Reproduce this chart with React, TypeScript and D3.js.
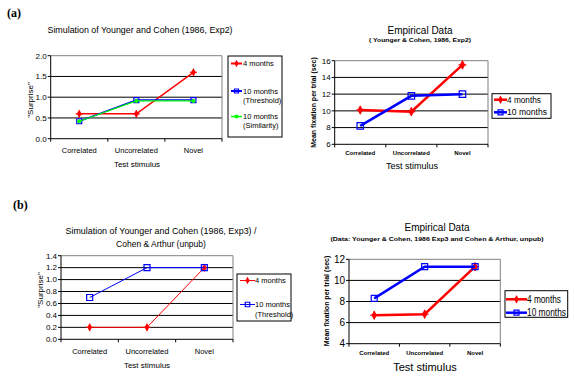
import React from "react";
import * as d3 from "d3";

// categories + values
const categories = ["Correlated", "Uncorrelated", "Novel"];

const simA4 = [0.6, 0.6, 1.6];
const simA10Thresh = [0.42, 0.93, 0.93];
const simA10Sim = [0.42, 0.91, 0.91];
const simATicks = [0, 0.5, 1.0, 1.5, 2.0];

const empA4 = [10.1, 9.9, 15.5];
const empA10 = [8.2, 11.8, 12.0];
const empATicks = [6, 8, 10, 12, 14, 16];

const simB4 = [0.2, 0.2, 1.2];
const simB10 = [0.7, 1.2, 1.2];
const simBTicks = [0, 0.2, 0.4, 0.6, 0.8, 1.0, 1.2, 1.4];

const empB4 = [6.7, 6.8, 11.3];
const empB10 = [8.3, 11.3, 11.3];
const empBTicks = [4, 6, 8, 10, 12];

const RED = "#ff0000";
const BLUE = "#0000ff";
const GREEN = "#00ff00";
const FONT = "'Liberation Sans', Arial, sans-serif";

type Series = {
  values: number[];
  color: string;
  width: number;
  marker: "diamond" | "square" | "circle";
  msize: number;
};

const Marker = ({ kind, x, y, color, size }: { kind: string; x: number; y: number; color: string; size: number }) => {
  if (kind === "diamond") {
    const p = d3.symbol().type(d3.symbolDiamond).size(size * size * 0.55)();
    const h = size / 2 + 0.5;
    return (
      <g transform={`translate(${x},${y})`}>
        <path d={p!} fill={color} />
        <line x1={-h} x2={h} y1={0} y2={0} stroke={color} strokeWidth={1.2} />
        <line x1={0} x2={0} y1={-h} y2={h} stroke={color} strokeWidth={1.2} />
      </g>
    );
  }
  if (kind === "square") {
    const p = d3.symbol().type(d3.symbolSquare).size(size * size)();
    return <path d={p!} transform={`translate(${x},${y})`} fill="none" stroke={color} strokeWidth={1.2} />;
  }
  return <circle cx={x} cy={y} r={size / 2} fill={color} />;
};

type LegendItem = { lines: string[]; color: string; width: number; marker: string; msize: number; tl?: number };

type PanelProps = {
  x0: number; x1: number; y0: number; y1: number;
  domain: [number, number];
  ticks: number[];
  fmt: (v: number) => string;
  tickSize: number;
  xLabSize: number; xLabWeight: string; xLabY: number;
  series: Series[];
  legend: {
    x: number; y: number; w: number; h: number;
    lx0: number; lx1: number; tx: number;
    rows: number[]; lineGap: number; size: number;
    items: LegendItem[];
  };
};

const Panel = (p: PanelProps) => {
  const x = d3.scaleBand().domain(categories).range([p.x0, p.x1]);
  const y = d3.scaleLinear().domain(p.domain).range([p.y1, p.y0]);
  const cx = (c: string) => x(c)! + x.bandwidth() / 2;
  const line = d3
    .line<number>()
    .x((_, i) => cx(categories[i]))
    .y((d) => y(d));
  const bounds = [p.x0, ...categories.map((c) => x(c)! + x.bandwidth())];
  const lg = p.legend;

  return (
    <g>
      {/* grid */}
      {p.ticks.slice(1, -1).map((t) => (
        <line key={t} x1={p.x0} x2={p.x1} y1={y(t)} y2={y(t)} stroke="#000" strokeWidth={1} />
      ))}
      <line x1={p.x0} x2={p.x1} y1={p.y0} y2={p.y0} stroke="#808080" />
      <line x1={p.x1} x2={p.x1} y1={p.y0} y2={p.y1} stroke="#808080" />
      {/* axes */}
      <line x1={p.x0} x2={p.x0} y1={p.y0} y2={p.y1} stroke="#000" />
      <line x1={p.x0} x2={p.x1} y1={p.y1} y2={p.y1} stroke="#000" />
      {p.ticks.map((t) => (
        <g key={t}>
          <line x1={p.x0 - 3} x2={p.x0} y1={y(t)} y2={y(t)} stroke="#000" />
          <text x={p.x0 - 4} y={y(t)} dy="0.35em" textAnchor="end" fontSize={p.tickSize}>
            {p.fmt(t)}
          </text>
        </g>
      ))}
      {bounds.map((b, i) => (
        <line key={i} x1={b} x2={b} y1={p.y1} y2={p.y1 + 3} stroke="#000" />
      ))}
      {categories.map((c) => (
        <text key={c} x={cx(c)} y={p.xLabY} textAnchor="middle" fontSize={p.xLabSize} fontWeight={p.xLabWeight}>
          {c}
        </text>
      ))}
      {/* series */}
      {p.series.map((s, i) => (
        <g key={i}>
          <path d={line(s.values)!} fill="none" stroke={s.color} strokeWidth={s.width} />
          {s.values.map((v, j) => (
            <Marker key={j} kind={s.marker} x={cx(categories[j])} y={y(v)} color={s.color} size={s.msize} />
          ))}
        </g>
      ))}
      {/* legend */}
      <rect x={lg.x} y={lg.y} width={lg.w} height={lg.h} fill="#fff" stroke="#000" />
      {lg.items.map((it, i) => (
        <g key={i}>
          <line x1={lg.lx0} x2={lg.lx1} y1={lg.rows[i]} y2={lg.rows[i]} stroke={it.color} strokeWidth={it.width} />
          <Marker kind={it.marker} x={(lg.lx0 + lg.lx1) / 2} y={lg.rows[i]} color={it.color} size={it.msize} />
          {it.lines.map((t, k) => (
            <text
              key={k}
              x={lg.tx}
              y={lg.rows[i] + k * lg.lineGap}
              dy="0.35em"
              fontSize={lg.size}
              textLength={it.tl}
              lengthAdjust={it.tl ? "spacingAndGlyphs" : undefined}
            >
              {t}
            </text>
          ))}
        </g>
      ))}
    </g>
  );
};

const f1 = (v: number) => v.toFixed(1);
const f0 = (v: number) => String(v);

export default function App() {
  return (
    <svg
      width={575}
      height={388}
      style={{ position: "absolute", left: 0, top: 0, background: "#fff" }}
      fontFamily={FONT}
    >
      <rect width={575} height={388} fill="#fff" />

      {/* (a) left: simulation */}
      <text x={7} y={17} fontFamily="'Liberation Serif', 'Times New Roman', serif" fontWeight="bold" fontSize={12}>
        (a)
      </text>
      <text x={140} y={33} textAnchor="middle" fontSize={8.5} textLength={185} lengthAdjust="spacingAndGlyphs">
        Simulation of Younger and Cohen (1986, Exp2)
      </text>
      <text transform="translate(30,100) rotate(-90)" y={3} textAnchor="middle" fontSize={8}>
        "Surprise"
      </text>
      <Panel
        x0={50.7} x1={222} y0={55.7} y1={138.7}
        domain={[0, 2]} ticks={simATicks} fmt={f1} tickSize={8}
        xLabSize={7.5} xLabWeight="normal" xLabY={153}
        series={[
          { values: simA4, color: RED, width: 1.5, marker: "diamond", msize: 6 },
          { values: simA10Thresh, color: BLUE, width: 1.5, marker: "square", msize: 5 },
          { values: simA10Sim, color: GREEN, width: 1.2, marker: "circle", msize: 4 },
        ]}
        legend={{
          x: 228, y: 56, w: 54, h: 81, lx0: 231, lx1: 242, tx: 243,
          rows: [63.5, 91, 116.5], lineGap: 9, size: 7.5,
          items: [
            { lines: ["4 months"], color: RED, width: 2, marker: "diamond", msize: 5 },
            { lines: ["10 months", "(Threshold)"], color: BLUE, width: 2, marker: "square", msize: 4 },
            { lines: ["10 months", "(Similarity)"], color: GREEN, width: 1.5, marker: "circle", msize: 4 },
          ],
        }}
      />
      <text x={137} y={167} textAnchor="middle" fontSize={8}>
        Test stimulus
      </text>

      {/* (a) right: empirical */}
      <text x={420} y={34} textAnchor="middle" fontSize={10}>
        Empirical Data
      </text>
      <text x={420} y={42} textAnchor="middle" fontSize={6} fontWeight="bold" textLength={102} lengthAdjust="spacingAndGlyphs">
        ( Younger &amp; Cohen, 1986, Exp2)
      </text>
      <text transform="translate(313,102.5) rotate(-90)" y={2.5} textAnchor="middle" fontSize={7} fontWeight="bold">
        Mean fixation per trial (sec)
      </text>
      <Panel
        x0={334.7} x1={488} y0={60.7} y1={144.3}
        domain={[6, 16]} ticks={empATicks} fmt={f0} tickSize={8}
        xLabSize={6} xLabWeight="bold" xLabY={155}
        series={[
          { values: empA4, color: RED, width: 2.5, marker: "diamond", msize: 7 },
          { values: empA10, color: BLUE, width: 2.5, marker: "square", msize: 6.5 },
        ]}
        legend={{
          x: 492, y: 93.7, w: 59, h: 24.6, lx0: 494, lx1: 507, tx: 507,
          rows: [99.7, 112.3], lineGap: 9, size: 8.5,
          items: [
            { lines: ["4 months"], color: RED, width: 2.5, marker: "diamond", msize: 6, tl: 34 },
            { lines: ["10 months"], color: BLUE, width: 2.5, marker: "square", msize: 5, tl: 40 },
          ],
        }}
      />
      <text x={412} y={169} textAnchor="middle" fontSize={9}>
        Test stimulus
      </text>

      {/* (b) left: simulation */}
      <text x={13} y={209} fontFamily="'Liberation Serif', 'Times New Roman', serif" fontWeight="bold" fontSize={12}>
        (b)
      </text>
      <text x={161} y={234} textAnchor="middle" fontSize={8.5} textLength={191} lengthAdjust="spacingAndGlyphs">
        Simulation of Younger and Cohen (1986, Exp3) /
      </text>
      <text x={161} y={247} textAnchor="middle" fontSize={8.5}>
        Cohen &amp; Arthur (unpub)
      </text>
      <text transform="translate(40,290) rotate(-90)" y={3} textAnchor="middle" fontSize={8}>
        "Surprise"
      </text>
      <Panel
        x0={61} x1={233} y0={255.7} y1={339.3}
        domain={[0, 1.4]} ticks={simBTicks} fmt={f1} tickSize={8}
        xLabSize={7.5} xLabWeight="normal" xLabY={354}
        series={[
          { values: simB4, color: RED, width: 1, marker: "diamond", msize: 6 },
          { values: simB10, color: BLUE, width: 1, marker: "square", msize: 6 },
        ]}
        legend={{
          x: 237, y: 274, w: 54, h: 47, lx0: 240, lx1: 255, tx: 255,
          rows: [280.5, 304.5], lineGap: 9.5, size: 7.5,
          items: [
            { lines: ["4 months"], color: RED, width: 1, marker: "diamond", msize: 5 },
            { lines: ["10 months", "(Threshold)"], color: BLUE, width: 1, marker: "square", msize: 4.5 },
          ],
        }}
      />
      <text x={147} y={368} textAnchor="middle" fontSize={8}>
        Test stimulus
      </text>

      {/* (b) right: empirical */}
      <text x={437} y={231} textAnchor="middle" fontSize={10}>
        Empirical Data
      </text>
      <text x={437} y={240.5} textAnchor="middle" fontSize={5.5} fontWeight="bold" textLength={213} lengthAdjust="spacingAndGlyphs">
        (Data: Younger &amp; Cohen, 1986 Exp3 and Cohen &amp; Arthur, unpub)
      </text>
      <text transform="translate(326.7,301) rotate(-90)" y={2.5} textAnchor="middle" fontSize={7} fontWeight="bold">
        Mean fixation per trial (sec)
      </text>
      <Panel
        x0={349} x1={500.3} y0={259.3} y1={343.7}
        domain={[4, 12]} ticks={empBTicks} fmt={f0} tickSize={10}
        xLabSize={6} xLabWeight="bold" xLabY={355}
        series={[
          { values: empB4, color: RED, width: 2.5, marker: "diamond", msize: 7 },
          { values: empB10, color: BLUE, width: 2.5, marker: "square", msize: 6 },
        ]}
        legend={{
          x: 505, y: 290.7, w: 62.7, h: 26.6, lx0: 506, lx1: 527, tx: 527,
          rows: [299.3, 312.7], lineGap: 9, size: 10,
          items: [
            { lines: ["4 months"], color: RED, width: 2.5, marker: "diamond", msize: 6, tl: 34 },
            { lines: ["10 months"], color: BLUE, width: 2.5, marker: "square", msize: 5, tl: 39 },
          ],
        }}
      />
      <text x={425} y={371} textAnchor="middle" fontSize={11}>
        Test stimulus
      </text>
    </svg>
  );
}
